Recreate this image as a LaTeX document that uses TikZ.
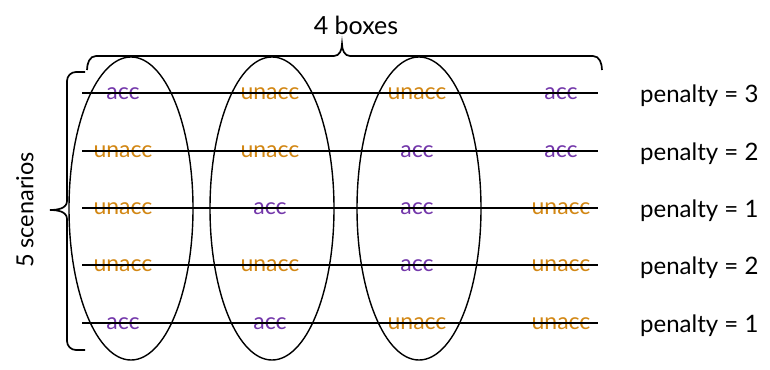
\documentclass[tikz,border=0pt]{standalone}
\usepackage{fontspec}
\setmainfont{Lato}
\usetikzlibrary{shapes.geometric}
\definecolor{accc}{RGB}{115,55,170}
\definecolor{unaccc}{RGB}{210,135,20}
\begin{document}
\begin{tikzpicture}[x=1pt,y=-1pt,
  lbl/.style={font=\fontsize{25}{30}\selectfont,inner sep=0pt},
  accnode/.style={font=\fontsize{23}{27}\selectfont,inner sep=0pt,anchor=base,text=accc},
  unaccnode/.style={font=\fontsize{23}{27}\selectfont,inner sep=0pt,anchor=base,text=unaccc},
  pen/.style={font=\fontsize{24}{28}\selectfont,inner sep=0pt,anchor=base west},
  rowline/.style={line width=1.4pt},
  ell/.style={draw,ellipse,line width=1.4pt,minimum width=124pt,minimum height=303pt,inner sep=0pt},
  brace/.style={line width=1.7pt}]
\useasboundingbox (0,0) rectangle (770,369);
% cell texts
\foreach \r/\y/\a/\b/\c/\d in {1/93/acc/unacc/unacc/acc,2/151/unacc/unacc/acc/acc,3/208/unacc/acc/acc/unacc,4/265/unacc/unacc/acc/unacc,5/323/acc/acc/unacc/unacc}{
  \node[\a node] (c\r a) at (123,\y+6) {\a};
  \node[\b node] (c\r b) at (270,\y+6) {\b};
  \node[\c node] (c\r c) at (417,\y+6) {\c};
  \node[\d node] (c\r d) at (561,\y+6) {\d};
  \coordinate (l\r) at (82,\y);
  \coordinate (r\r) at (598,\y);
  \draw[rowline] (l\r) -- (r\r);
}
% penalties
\node[pen] (p1) at (640,93+9) {penalty = 3};
\node[pen] (p2) at (640,151+9) {penalty = 2};
\node[pen] (p3) at (640,208+9) {penalty = 1};
\node[pen] (p4) at (640,265+9) {penalty = 2};
\node[pen] (p5) at (640,323+9) {penalty = 1};
% ellipses
\node[ell] (e1) at (131,208.5) {};
\node[ell] (e2) at (272,208.5) {};
\node[ell] (e3) at (419,208.5) {};
% top brace
\draw[brace] (87,70) to[out=90,in=180] (96,56) -- (334,56) to[out=0,in=-90] (342,44)
  to[out=-90,in=180] (350,56) -- (593,56) to[out=0,in=90] (602,70);
\node[lbl] (boxes) at (356,25) {4 boxes};
% left brace
\draw[brace] (85,72) -- (76,72) to[out=180,in=90] (67,81) -- (67,201) to[out=-90,in=0] (50,210)
  to[out=0,in=90] (67,219) -- (67,341) to[out=-90,in=180] (76,350) -- (85,350);
\node[lbl,rotate=90,font=\fontsize{23.5}{28}\selectfont] (scen) at (25,210) {5 scenarios};
\end{tikzpicture}
\end{document}
